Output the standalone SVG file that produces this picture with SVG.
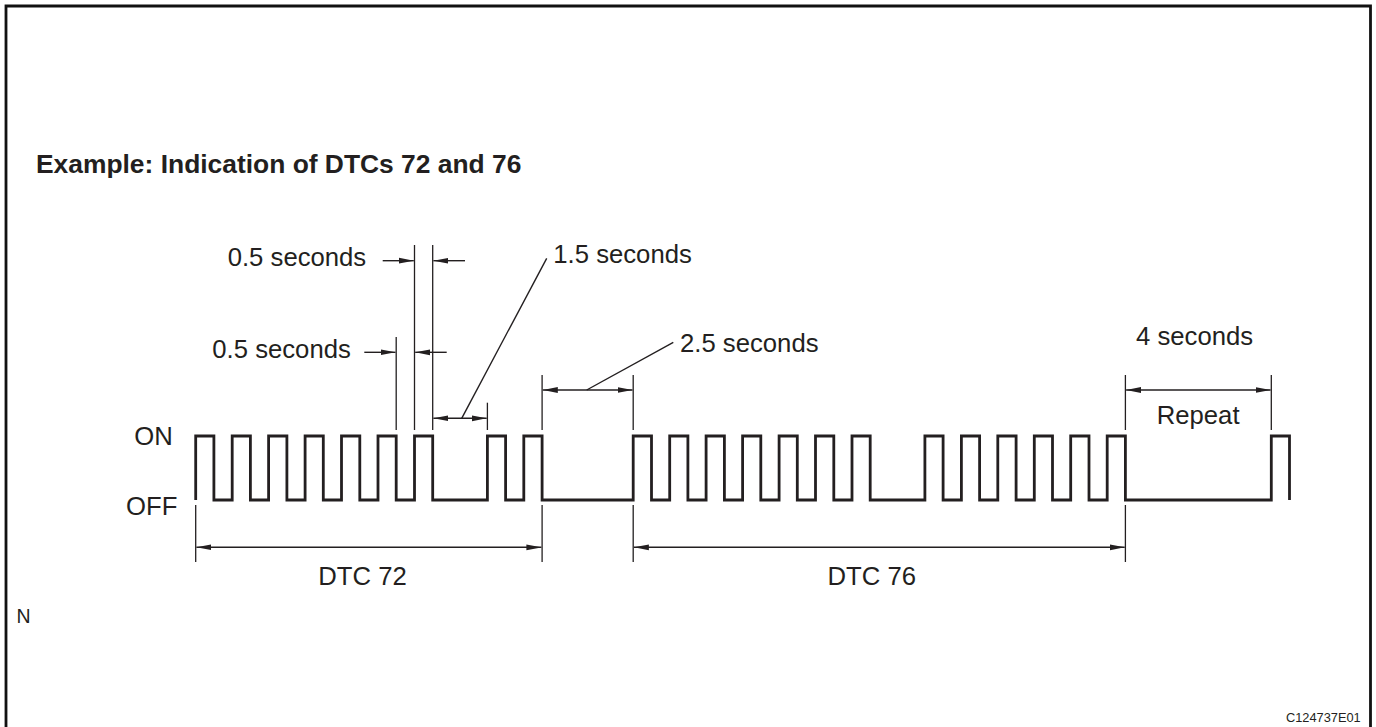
<svg xmlns="http://www.w3.org/2000/svg" width="1376" height="727" viewBox="0 0 1376 727">
<style>
text{font-family:"Liberation Sans",Arial,sans-serif;fill:#231f20}
.lbl{font-size:25.7px}
.title{font-size:26.4px;font-weight:bold}
.wave{fill:none;stroke:#231f20;stroke-width:2.8;stroke-linejoin:miter;stroke-linecap:butt}
.ext{stroke:#231f20;stroke-width:1.3;fill:none}
.dim{stroke:#231f20;stroke-width:1.4;fill:none}
.dd{marker-start:url(#aS);marker-end:url(#aE)}
.de{marker-end:url(#aE)}
.frame{fill:none;stroke:#111;stroke-width:2.8}
</style>
<defs>
<marker id="aE" markerUnits="userSpaceOnUse" viewBox="0 -3.5 15 7" refX="15" refY="0" markerWidth="15" markerHeight="7" orient="auto">
<path d="M0,-2.9 L15,0 L0,2.9 z" fill="#231f20"/>
</marker>
<marker id="aS" markerUnits="userSpaceOnUse" viewBox="0 -3.5 15 7" refX="0" refY="0" markerWidth="15" markerHeight="7" orient="auto">
<path d="M15,-2.9 L0,0 L15,2.9 z" fill="#231f20"/>
</marker>
</defs>
<rect width="1376" height="727" fill="#fff"/>
<path class="frame" d="M6,730 V6 H1370.5 V730"/>

<g id="title"><text class="title" x="36" y="173">Example: Indication of DTCs 72 and 76</text></g>

<g id="levels">
<text class="lbl" x="134.3" y="445">ON</text>
<text class="lbl" x="126" y="515">OFF</text>
</g>

<g id="waveform">
<path class="wave" d="M195.7 500V436H213.9V500H232.2V436H250.4V500H268.6V436H286.9V500H305.1V436H323.3V500H341.5V436H359.8V500H378V436H396.2V500H414.5V436H432.7V500H487.4V436H505.6V500H523.8V436H542.1V500H633.2V436H651.5V500H669.7V436H687.9V500H706.1V436H724.4V500H742.6V436H760.8V500H779.1V436H797.3V500H815.5V436H833.8V500H852V436H870.2V500H924.9V436H943.1V500H961.4V436H979.6V500H997.8V436H1016.1V500H1034.3V436H1052.5V500H1070.7V436H1089V500H1107.2V436H1125.4V500H1271.3V436H1289.5V500"/>
</g>

<g id="dim-0.5-on">
<text class="lbl" x="227.7" y="266">0.5 seconds</text>
</g>
<g id="dim-0.5-off">
<text class="lbl" x="212.3" y="358.3">0.5 seconds</text>
</g>
<g id="dim-1.5">
<text class="lbl" x="553.3" y="263.3">1.5 seconds</text>
</g>
<g id="dim-2.5">
<text class="lbl" x="680" y="351.7">2.5 seconds</text>
</g>
<g id="dim-4">
<text class="lbl" x="1136" y="345">4 seconds</text>
<text class="lbl" x="1156.7" y="424.3">Repeat</text>
</g>
<g id="dtc72"><text class="lbl" x="318.3" y="585">DTC 72</text></g>
<g id="dtc76"><text class="lbl" x="827.5" y="585">DTC 76</text></g>
<g id="note"><text x="16.5" y="622.7" style="font-size:19.5px">N</text></g>
<g id="code"><text x="1286" y="721.7" style="font-size:12.8px">C124737E01</text></g>

<g id="connectors">
<!-- extension lines above waveform -->
<line class="ext" x1="414.5" y1="245" x2="414.5" y2="430"/>
<line class="ext" x1="432.7" y1="245" x2="432.7" y2="430"/>
<line class="ext" x1="396.2" y1="337" x2="396.2" y2="430"/>
<line class="ext" x1="487.4" y1="402.7" x2="487.4" y2="430"/>
<line class="ext" x1="542.1" y1="375" x2="542.1" y2="430"/>
<line class="ext" x1="633.2" y1="375" x2="633.2" y2="430"/>
<line class="ext" x1="1125.4" y1="375" x2="1125.4" y2="430"/>
<line class="ext" x1="1271.3" y1="375" x2="1271.3" y2="430"/>
<!-- extension lines below waveform -->
<line class="ext" x1="195.7" y1="505" x2="195.7" y2="562"/>
<line class="ext" x1="542.1" y1="505" x2="542.1" y2="562"/>
<line class="ext" x1="633.2" y1="505" x2="633.2" y2="562"/>
<line class="ext" x1="1125.4" y1="505" x2="1125.4" y2="562"/>
<!-- 0.5 s ON -->
<line class="dim de" x1="382.7" y1="260.7" x2="413.8" y2="260.7"/>
<line class="dim de" x1="465" y1="260.7" x2="433.4" y2="260.7"/>
<!-- 0.5 s OFF -->
<line class="dim de" x1="364.3" y1="352.3" x2="395.5" y2="352.3"/>
<line class="dim de" x1="446.7" y1="352.3" x2="415.2" y2="352.3"/>
<!-- 1.5 s -->
<line class="dim dd" x1="433.4" y1="418.3" x2="486.7" y2="418.3"/>
<line class="dim" x1="461.7" y1="418.3" x2="546.7" y2="258.3"/>
<!-- 2.5 s -->
<line class="dim dd" x1="542.8" y1="390" x2="632.5" y2="390"/>
<line class="dim" x1="586.7" y1="390" x2="673.3" y2="342.3"/>
<!-- 4 s -->
<line class="dim dd" x1="1126.1" y1="390" x2="1270.6" y2="390"/>
<!-- DTC 72 / 76 -->
<line class="dim dd" x1="196.4" y1="547.3" x2="541.4" y2="547.3"/>
<line class="dim dd" x1="633.9" y1="547.3" x2="1124.7" y2="547.3"/>
</g>
</svg>
